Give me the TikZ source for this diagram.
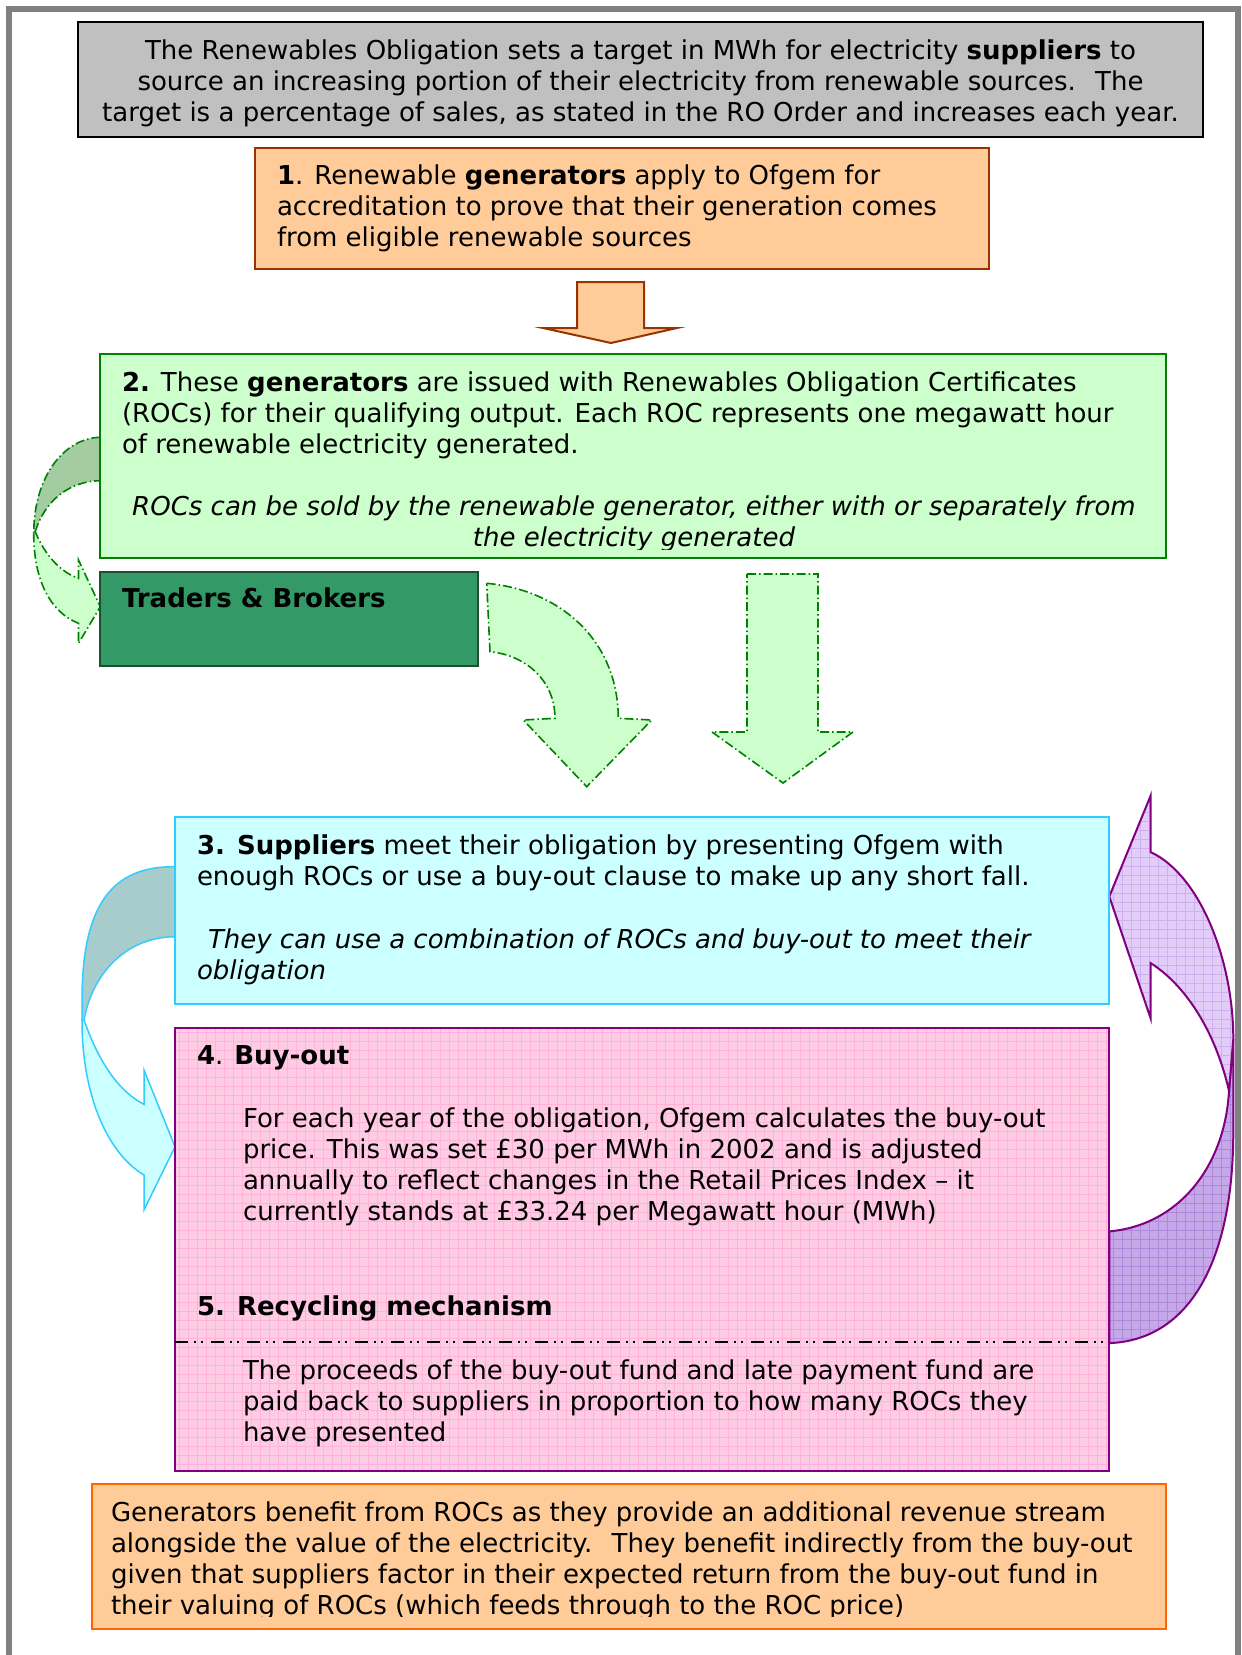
\documentclass[tikz,border=0pt]{standalone}
\usepackage{fontspec}
\setmainfont{DejaVu Sans}
\definecolor{framegray}{HTML}{808080}
\definecolor{introfill}{HTML}{C0C0C0}
\definecolor{orfill}{HTML}{FFCC99}
\definecolor{orline}{HTML}{993300}
\definecolor{orline2}{HTML}{FF6600}
\definecolor{gfill}{HTML}{CCFFCC}
\definecolor{gline}{HTML}{008000}
\definecolor{gdark}{HTML}{A3CCA3}
\definecolor{trfill}{HTML}{339966}
\definecolor{trline}{HTML}{1E4D30}
\definecolor{cfill}{HTML}{CCFFFF}
\definecolor{cline}{HTML}{33CCFF}
\definecolor{cdark}{HTML}{A6CCCC}
\definecolor{pkfill}{HTML}{FFCCE6}
\definecolor{pkgrid}{HTML}{FFB3D9}
\definecolor{puline}{HTML}{800080}
\definecolor{pulight}{HTML}{E2CCF8}
\definecolor{pulgrid}{HTML}{CDB0EC}
\definecolor{pudark}{HTML}{C6A8E8}
\definecolor{pudgrid}{HTML}{AE8ADB}
\tikzset{
  box/.style={draw, line width=2pt, inner sep=0pt, outer sep=0pt, anchor=north west},
  txt/.style={inner sep=0pt, outer sep=0pt, font=\fontsize{26}{31}\selectfont, align=left, anchor=north west},
  itxt/.style={txt, font=\fontsize{26}{31}\selectfont\itshape},
  gdash/.style={draw=gline, line width=1.6pt, dash pattern=on 9pt off 3pt on 1.5pt off 3pt},
}
\def\GLight{(33.7,533.3) .. controls (33.7,580) and (50,612) .. (78.5,623.3) -- (78.5,643.3) -- (100.3,606.7) -- (78.5,560) -- (78.5,578.3) .. controls (60,572) and (45,555) .. (35.2,531.7) -- cycle}
\def\PLight{(1150.7,852.1) .. controls (1200,875) and (1233.3,960) .. (1233.3,1039) -- (1229,1090.8) .. controls (1215,1030) and (1185,985) .. (1150.7,963.1) -- (1150.7,1018.6) -- (1109.3,896.5) -- (1150.7,795.5) -- cycle}
\def\PDark{(1109.3,1231.4) .. controls (1180,1225) and (1225,1165) .. (1229,1090.8) -- (1233.3,1039) -- (1233.3,1131.5) .. controls (1233.3,1260) and (1190,1340) .. (1109.3,1343.1) -- cycle}
\begin{document}
\begin{tikzpicture}[x=1pt,y=-1pt]
\useasboundingbox (0,0) rectangle (1242,1655);
\fill[white] (0,0) rectangle (1242,1655);
% page frame
\draw[framegray, line width=6pt, line join=miter] (9,1660) -- (9,9) -- (1238,9) -- (1238,1660);

% ---- left green curved arrow (box 2 -> traders)
\fill[gdark] (100.3,437.3) .. controls (65,438) and (34,475) .. (33.7,533.3) -- (35.2,531.7) .. controls (45,500) and (70,481) .. (100.3,480.7) -- cycle;
\draw[gdash] (100.3,437.3) .. controls (65,438) and (34,475) .. (33.7,533.3);
\draw[gdash] (35.2,531.7) .. controls (45,500) and (70,481) .. (100.3,480.7);
\fill[gfill] \GLight;
\draw[gdash] \GLight;

% ---- cyan curved arrow (box 3 -> box 4)
\fill[cdark] (175,866.7) .. controls (112,866) and (82,905) .. (82,1000) -- (83,1020) .. controls (92,975) and (125,937) .. (175,936.7) -- cycle;
\draw[cline, line width=1.5pt] (175,866.7) .. controls (112,866) and (82,905) .. (82,1000) -- (82,1020);
\draw[cline, line width=1.5pt] (84,1020) .. controls (92,975) and (125,937) .. (175,936.7);
\filldraw[fill=cfill, draw=cline, line width=1.5pt] (82,1020) .. controls (82,1100) and (110,1155) .. (144,1175) -- (144,1210) -- (175,1146.7) -- (144,1070) -- (144,1104.3) .. controls (120,1092) and (100,1065) .. (84,1020) -- cycle;

% ---- purple curved arrow (box 4/5 -> box 3)
\begin{scope}
  \clip \PDark;
  \fill[pudark] (1100,1030) rectangle (1240,1350);
  \foreach \x in {1104,1113,...,1240} \draw[pudgrid, line width=0.8pt] (\x,1030) -- (\x,1350);
  \foreach \y in {1032,1041,...,1350} \draw[pudgrid, line width=0.8pt] (1100,\y) -- (1240,\y);
\end{scope}
\draw[puline, line width=2pt] \PDark;
\begin{scope}
  \clip \PLight;
  \fill[pulight] (1100,790) rectangle (1240,1100);
  \foreach \x in {1104,1113,...,1240} \draw[pulgrid, line width=0.8pt] (\x,790) -- (\x,1100);
  \foreach \y in {794,803,...,1100} \draw[pulgrid, line width=0.8pt] (1100,\y) -- (1240,\y);
\end{scope}
\draw[puline, line width=2pt, line join=miter] \PLight;

% ---- orange down arrow (box 1 -> box 2)
\filldraw[fill=orfill, draw=orline, line width=2pt] (577,282) -- (644,282) -- (644,328) -- (677,328) -- (611,343) -- (543,328) -- (577,328) -- cycle;

% ---- green curved arrow from traders
\filldraw[fill=gfill, gdash] (486.7,583.3) .. controls (560,590) and (618,640) .. (618.3,718.3) -- (651.7,720) -- (586.7,786.7) -- (523.3,720) -- (555,718.3) .. controls (555,680) and (525,655) .. (490,651.7) -- cycle;
% ---- green straight down arrow
\filldraw[fill=gfill, gdash] (747,574) -- (818,574) -- (818,732) -- (853,732) -- (783,783) -- (712,732) -- (747,732) -- cycle;

% ---- boxes
\node[box, fill=introfill, draw=black, line width=2.5pt, minimum width=1125pt, minimum height=115pt] (intro) at (78,22) {};
\node[box, fill=orfill, draw=orline, minimum width=734pt, minimum height=121pt] (s1) at (255,148) {};
\node[box, fill=gfill, draw=gline, minimum width=1066pt, minimum height=204pt] (s2) at (100,354) {};
\node[box, fill=trfill, draw=trline, minimum width=378pt, minimum height=94pt] (traders) at (100,572) {};
\node[box, fill=cfill, draw=cline, minimum width=934pt, minimum height=187pt] (s3) at (175,817) {};
\node[box, fill=pkfill, draw=puline, minimum width=934pt, minimum height=443pt] (s4) at (175,1028) {};
\begin{scope}
  \clip (176,1029) rectangle (1108,1470);
  \foreach \x in {179,188,...,1108} \draw[pkgrid, line width=0.7pt] (\x,1029) -- (\x,1470);
  \foreach \y in {1032,1041,...,1470} \draw[pkgrid, line width=0.7pt] (176,\y) -- (1108,\y);
\end{scope}
\draw[puline, line width=2pt] (s4.north west) rectangle (s4.south east);
\node[box, fill=orfill, draw=orline2, line width=2.5pt, minimum width=1074pt, minimum height=145pt] (benefit) at (92,1484) {};

% ---- separator in box 4/5
\coordinate (sepL) at (175,1342);
\coordinate (sepR) at (1109,1342);
\draw[black, line width=2pt, dash pattern=on 13pt off 6pt on 2pt off 5pt on 2pt off 8pt] (sepL) -- (sepR);

% ---- texts
\node[txt, align=center, anchor=north] (tintro) at (640.5,37.3) {\strut The Renewables Obligation sets a target in MWh for electricity \textbf{suppliers} to\\ source an increasing portion of their electricity from renewable sources.~ The\\ target is a percentage of sales, as stated in the RO Order and increases each year.};
\node[txt] (ts1) at (277,162.3) {\strut\textbf{1}. Renewable \textbf{generators} apply to Ofgem for\\ accreditation to prove that their generation comes\\ from eligible renewable sources};
\node[txt] (ts2) at (122,369.3) {\strut\textbf{2.} These \textbf{generators} are issued with Renewables Obligation Certificates\\ (ROCs) for their qualifying output. Each ROC represents one megawatt hour\\ of renewable electricity generated.};
\begin{scope}
  \clip (101,480) rectangle (1165,549);
  \node[itxt, align=center, anchor=north] (ts2b) at (634,493.3) {\strut ROCs can be sold by the renewable generator, either with or separately from\\ the electricity generated};
\end{scope}
\node[txt, anchor=base west] (ttr) at (122,607) {\textbf{Traders \& Brokers}};
\node[txt] (ts3) at (197,832.3) {\strut\textbf{3. Suppliers} meet their obligation by presenting Ofgem with\\ enough ROCs or use a buy-out clause to make up any short fall.};
\node[itxt] (ts3b) at (197,926.3) {\strut\hspace*{11pt}They can use a combination of ROCs and buy-out to meet their\\ obligation};
\node[txt, anchor=base west] (ts4h) at (197,1064) {\textbf{4}. \textbf{Buy-out}};
\node[txt] (ts4) at (243,1105.3) {\strut For each year of the obligation, Ofgem calculates the buy-out\\ price. This was set £30 per MWh in 2002 and is adjusted\\ annually to reflect changes in the Retail Prices Index – it\\ currently stands at £33.24 per Megawatt hour (MWh)};
\node[txt, anchor=base west] (ts5h) at (197,1315) {\textbf{5. Recycling mechanism}};
\node[txt] (ts5) at (243,1357.3) {\strut The proceeds of the buy-out fund and late payment fund are\\ paid back to suppliers in proportion to how many ROCs they\\ have presented};
\begin{scope}
  \clip (93,1485) rectangle (1165,1616);
  \node[txt] (tben) at (111,1499.3) {\strut Generators benefit from ROCs as they provide an additional revenue stream\\ alongside the value of the electricity.~ They benefit indirectly from the buy-out\\ given that suppliers factor in their expected return from the buy-out fund in\\ their valuing of ROCs (which feeds through to the ROC price)};
\end{scope}
\end{tikzpicture}
\end{document}
